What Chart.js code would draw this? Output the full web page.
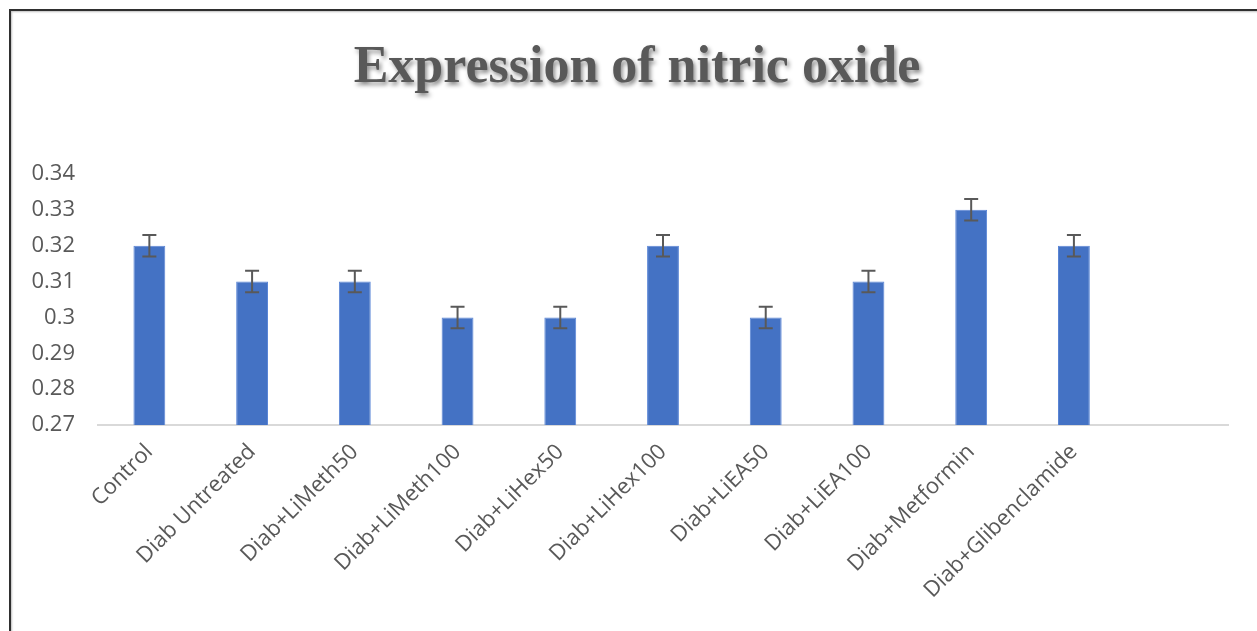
<!DOCTYPE html>
<html>
<head>
<meta charset="utf-8">
<script src="https://cdn.jsdelivr.net/npm/chart.js@4.4.1/dist/chart.umd.min.js"></script>
<style>
    body { margin: 0; background: #fff; overflow: hidden; }
    #frame {
        position: absolute; left: 9px; top: 9px; width: 1300px; height: 700px;
        border-left: 2px solid #2f2f2f; border-top: 2px solid #2f2f2f;
        box-shadow: inset 1px 1px 2px rgba(0,0,0,0.25);
    }
    #wrap { position: absolute; left: 0; top: 0; width: 1257px; height: 631px; }
</style>
</head>
<body>
<div id="frame"></div>
<div id="wrap"><canvas id="chart"></canvas></div>
<script>
var categories = ['Control', 'Diab Untreated', 'Diab+LiMeth50', 'Diab+LiMeth100', 'Diab+LiHex50',
    'Diab+LiHex100', 'Diab+LiEA50', 'Diab+LiEA100', 'Diab+Metformin', 'Diab+Glibenclamide', ''];
var values = [0.32, 0.31, 0.31, 0.30, 0.30, 0.32, 0.30, 0.31, 0.33, 0.32, null];
var errors = [0.003, 0.003, 0.003, 0.003, 0.003, 0.003, 0.003, 0.003, 0.003, 0.003, null];
var yTickLabels = ['0.27', '0.28', '0.29', '0.3', '0.31', '0.32', '0.33', '0.34'];
var title = 'Expression of nitric oxide';

// error bars drawn with the y scale
var errorBars = {
    id: 'errorBars',
    afterDatasetsDraw: function (chart) {
        var ctx = chart.ctx;
        var yScale = chart.scales.y;
        var meta = chart.getDatasetMeta(0);
        ctx.save();
        ctx.strokeStyle = '#595959';
        ctx.lineWidth = 2;
        for (var i = 0; i < values.length; i++) {
            if (values[i] == null) continue;
            var x = meta.data[i].x;
            var top = yScale.getPixelForValue(values[i] + errors[i]);
            var bot = yScale.getPixelForValue(values[i] - errors[i]);
            ctx.beginPath();
            ctx.moveTo(x, top); ctx.lineTo(x, bot);
            ctx.moveTo(x - 7, top); ctx.lineTo(x + 7, top);
            ctx.moveTo(x - 7, bot); ctx.lineTo(x + 7, bot);
            ctx.stroke();
        }
        ctx.restore();
    }
};

// title with soft shadow
var shadowTitle = {
    id: 'shadowTitle',
    afterDraw: function (chart) {
        var ctx = chart.ctx;
        ctx.save();
        ctx.font = 'bold 52px "Liberation Serif", "Times New Roman", serif';
        ctx.textAlign = 'center';
        ctx.textBaseline = 'alphabetic';
        ctx.shadowColor = 'rgba(0,0,0,0.45)';
        ctx.shadowOffsetX = 2;
        ctx.shadowOffsetY = 3;
        ctx.shadowBlur = 4;
        ctx.fillStyle = '#595959';
        ctx.fillText(title, 637, 82);
        ctx.restore();
    }
};

new Chart(document.getElementById('chart'), {
    type: 'bar',
    data: {
        labels: categories,
        datasets: [{
            data: values,
            backgroundColor: '#4472C4',
            borderColor: '#5b86d6',
            borderWidth: 1,
            barPercentage: 0.31,
            categoryPercentage: 1
        }]
    },
    options: {
        responsive: true,
        maintainAspectRatio: false,
        animation: false,
        layout: { padding: { left: 0, right: 29, top: 174, bottom: 0 } },
        plugins: {
            legend: { display: false },
            tooltip: { enabled: false }
        },
        scales: {
            x: {
                grid: { display: false, drawTicks: false },
                border: { color: '#d9d9d9', width: 2 },
                ticks: {
                    color: '#595959',
                    font: { family: '"Open Sans", sans-serif', size: 22 },
                    maxRotation: 45, minRotation: 45,
                    autoSkip: false,
                    padding: 14
                },
                afterFit: function (scale) { scale.height = 206; }
            },
            y: {
                min: 0.27, max: 0.34,
                grid: { display: false, drawTicks: false },
                border: { display: false },
                ticks: {
                    stepSize: 0.01,
                    color: '#595959',
                    font: { family: '"Open Sans", sans-serif', size: 22 },
                    padding: 23,
                    callback: function (v, i) { return yTickLabels[i]; }
                },
                afterFit: function (scale) { scale.width = 98; }
            }
        }
    },
    plugins: [errorBars, shadowTitle]
});
</script>
</body>
</html>
